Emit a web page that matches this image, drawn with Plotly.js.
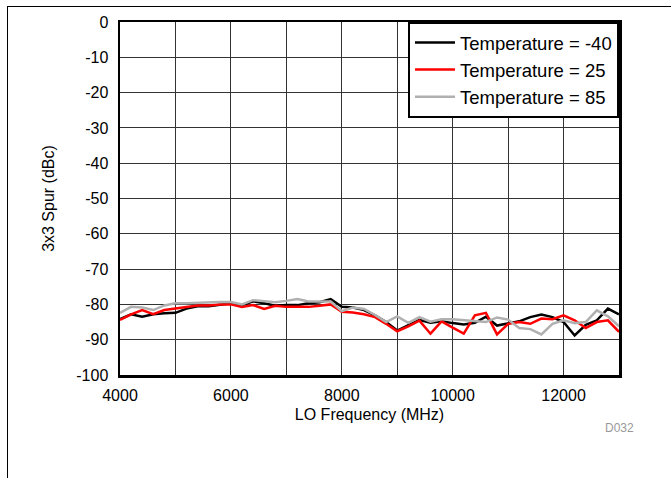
<!DOCTYPE html>
<html>
<head>
<meta charset="utf-8">
<script src="https://cdn.plot.ly/plotly-3.0.1.min.js"></script>
<style>
  html, body { margin: 0; padding: 0; background: #fff; }
  #wrap { position: relative; width: 671px; height: 478px; }
  #chart { position: absolute; left: 0; top: 0; width: 671px; height: 478px; }
  #frame { position: absolute; left: 7px; top: 6px; right: 0; bottom: 0;
           border-left: 1px solid #000; border-top: 1px solid #000; pointer-events: none; }
</style>
</head>
<body>
<div id="wrap"><div id="chart"></div><div id="frame"></div></div>
<script>
const freqMHz = [4000,4200,4400,4600,4800,5000,5200,5400,5600,5800,
                 6000,6200,6400,6600,6800,7000,7200,7400,7600,7800,
                 8000,8200,8400,8600,8800,9000,9200,9400,9600,9800,
                 10000,10200,10400,10600,10800,11000,11200,11400,11600,11800,
                 12000,12200,12400,12600,12800,13000];

const spurTm40 = [-84.2,-82.8,-83.5,-82.8,-82.5,-82.4,-81.2,-80.5,-80.5,-80.0,
                  -79.7,-80.2,-79.1,-79.7,-80.4,-80.2,-80.2,-79.7,-79.4,-78.5,
                  -80.7,-80.9,-81.6,-83.1,-85.0,-87.4,-85.9,-84.4,-85.2,-84.8,
                  -85.3,-85.7,-85.2,-83.5,-86.0,-85.5,-84.8,-83.6,-82.9,-83.6,
                  -85.0,-88.8,-85.8,-84.5,-81.2,-82.8];

const spurT25 = [-84.4,-82.8,-81.6,-82.8,-81.6,-81.2,-80.7,-80.3,-80.3,-80.0,
                 -80.0,-80.7,-80.2,-81.3,-80.4,-80.7,-80.7,-80.7,-80.4,-80.0,
                 -82.1,-82.3,-82.8,-83.6,-85.5,-87.6,-86.2,-84.6,-88.3,-84.8,
                 -86.6,-88.3,-83.1,-82.4,-88.5,-85.5,-85.0,-85.5,-84.0,-84.2,
                 -83.1,-84.5,-86.7,-85.0,-84.5,-87.8];

const spurT85 = [-82.4,-80.7,-80.9,-81.6,-80.3,-79.7,-79.7,-79.5,-79.3,-79.3,
                 -79.3,-80.0,-78.8,-79.2,-79.4,-79.0,-78.5,-79.2,-79.2,-79.2,
                 -81.9,-80.9,-81.3,-83.0,-85.0,-83.4,-85.2,-83.6,-84.9,-84.2,
                 -84.2,-84.5,-84.8,-85.0,-83.7,-84.3,-86.7,-87.0,-88.5,-85.5,
                 -84.5,-85.3,-85.0,-81.7,-83.4,-86.2];

const seriesNames = ["Temperature = -40", "Temperature = 25", "Temperature = 85"];
const seriesColors = ["#000000", "#ff0000", "#b0b0b0"];
const xTickVals = [4000, 6000, 8000, 10000, 12000];
const xTickText = ["4000", "6000", "8000", "10000", "12000"];
const yTickVals = [0,-10,-20,-30,-40,-50,-60,-70,-80,-90,-100];
const yTickText = ["0","-10","-20","-30","-40","-50","-60","-70","-80","-90","-100"];

const font = "Liberation Sans, Arial, sans-serif";
const ys = [spurTm40, spurT25, spurT85];
const traces = ys.map((y, i) => ({
  x: freqMHz, y: y, type: "scatter", mode: "lines",
  name: seriesNames[i],
  line: { color: seriesColors[i], width: 2.5 }
}));

const layout = {
  width: 671, height: 478,
  margin: { l: 120, r: 52, t: 22, b: 103 },
  paper_bgcolor: "#ffffff", plot_bgcolor: "#ffffff",
  font: { family: font, size: 16, color: "#000" },
  showlegend: true,
  legend: {
    x: 1, y: 1, xanchor: "right", yanchor: "top",
    bordercolor: "#000", borderwidth: 2, bgcolor: "#fff",
    font: { family: font, size: 18.5, color: "#000" },
    itemwidth: 40,
    tracegroupgap: 0
  },
  xaxis: {
    range: [4000, 13000],
    tickmode: "array", tickvals: xTickVals, ticktext: xTickText,
    showgrid: true, gridcolor: "#333", gridwidth: 1,
    minor: { dtick: 1000, tick0: 4000, showgrid: true, gridcolor: "#333", gridwidth: 1 },
    zeroline: false,
    showline: true, linecolor: "#000", linewidth: 2.5, mirror: true,
    ticks: "", ticklabelstandoff: 4,
    tickfont: { family: font, size: 16, color: "#000" },
    title: { text: "LO Frequency (MHz)", font: { family: font, size: 16, color: "#000" }, standoff: 6 }
  },
  yaxis: {
    range: [-100, 0],
    tickmode: "array", tickvals: yTickVals, ticktext: yTickText,
    showgrid: true, gridcolor: "#333", gridwidth: 1,
    zeroline: false,
    showline: true, linecolor: "#000", linewidth: 2.5, mirror: true,
    ticks: "", ticklabelstandoff: 6,
    tickfont: { family: font, size: 16, color: "#000" },
    title: { text: "3x3 Spur (dBc)", font: { family: font, size: 16, color: "#000" }, standoff: 18 }
  },
  annotations: [{
    text: "D032", xref: "paper", yref: "paper", x: 1.0, y: -0.15,
    xanchor: "center", yanchor: "middle", showarrow: false,
    font: { family: font, size: 12, color: "#999" }
  }]
};

Plotly.newPlot("chart", traces, layout, { staticPlot: true, displayModeBar: false });
</script>
</body>
</html>
